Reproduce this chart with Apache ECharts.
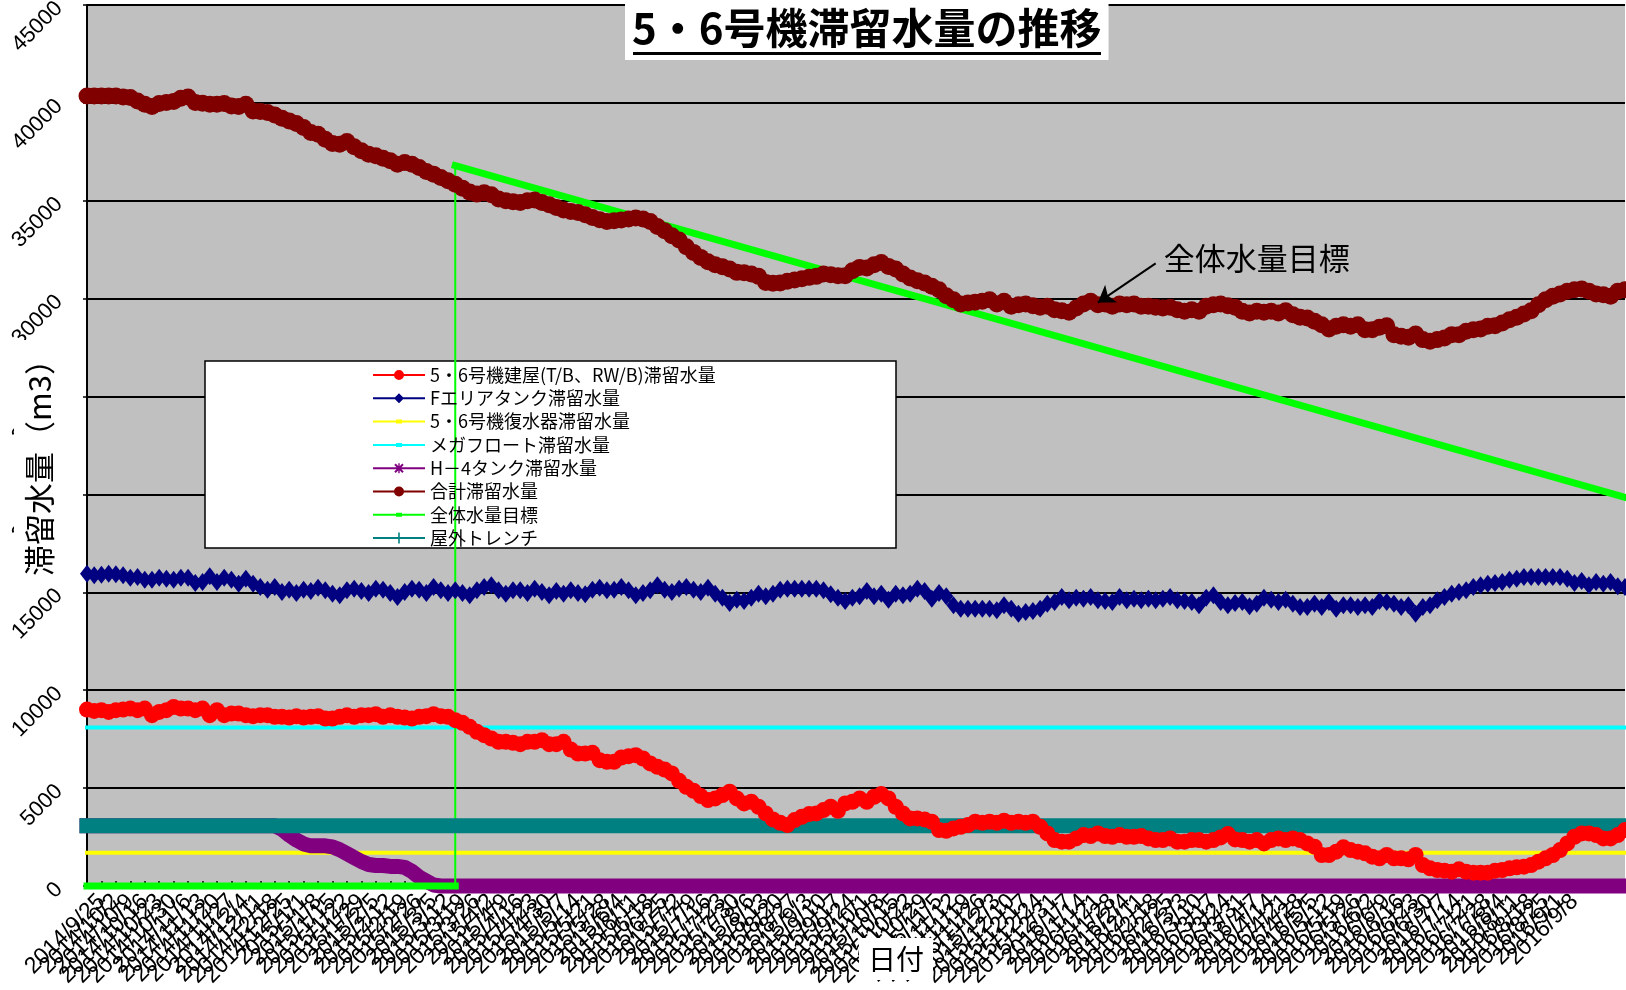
<!DOCTYPE html>
<html><head><meta charset="utf-8">
<script src="https://cdn.jsdelivr.net/npm/echarts@6/dist/echarts.min.js"></script>
<style>html,body{margin:0;padding:0;background:#fff}#c{width:1626px;height:990px}</style>
</head><body><div id="c"></div>
<script>
// ---------- data ----------
const N = 214;
// measurement dates (Thursday / Monday), 2014/9/18 ..
const dates = [];
(function () {
  let d = new Date(2014, 8, 18);
  for (let i = 0; i < N; i++) {
    dates.push(d.getFullYear() + '/' + (d.getMonth() + 1) + '/' + d.getDate());
    d = new Date(d.getFullYear(), d.getMonth(), d.getDate() + (i % 2 === 0 ? 4 : 3));
  }
})();

const yMin = 0, yMax = 45000, yStep = 5000;

const names = {
  bldg: '5・6号機建屋(T/B、RW/B)滞留水量',
  farea: 'Fエリアタンク滞留水量',
  cond: '5・6号機復水器滞留水量',
  mega: 'メガフロート滞留水量',
  h4: 'H－4タンク滞留水量',
  total: '合計滞留水量',
  target: '全体水量目標',
  trench: '屋外トレンチ'
};

const bldg = [
9013,8945,8980,8894,8980,9013,9064,8980,9064,8724,
8894,8980,9149,9064,9064,8980,9064,8724,8980,8724,
8809,8809,8724,8673,8724,8724,8639,8639,8605,8673,
8605,8639,8673,8554,8554,8639,8724,8639,8724,8724,
8775,8639,8724,8639,8605,8554,8639,8673,8775,8673,
8639,8469,8333,8129,7874,7704,7534,7364,7364,7313,
7245,7364,7364,7449,7245,7245,7364,6973,6769,6769,
6803,6429,6344,6344,6565,6633,6684,6514,6259,6089,
5952,5748,5374,5068,4864,4592,4388,4473,4643,4813,
4473,4218,4303,4048,3707,3402,3232,3112,3367,3537,
3673,3707,3878,4048,3844,4218,4303,4473,4303,4558,
4694,4473,4048,3707,3452,3452,3401,3282,2857,2823,
2942,3027,3112,3282,3231,3282,3231,3333,3231,3282,
3231,3282,3027,2687,2347,2262,2262,2432,2602,2551,
2687,2551,2517,2602,2517,2517,2551,2432,2347,2347,
2432,2262,2262,2347,2347,2262,2347,2483,2653,2381,
2347,2262,2347,2177,2347,2432,2347,2432,2347,2177,
2007,1582,1582,1752,1973,1837,1752,1667,1497,1412,
1582,1412,1412,1361,1582,1071,901,816,782,731,
850,731,680,680,680,782,816,901,952,986,
1071,1241,1412,1582,1837,2177,2517,2687,2687,2602,
2432,2432,2602,2857];

const farea = [
15953,15867,15902,15953,15918,15867,15749,15782,15647,15647,
15749,15698,15647,15749,15749,15476,15527,15816,15527,15749,
15647,15443,15698,15443,15272,15137,15272,15017,15137,14966,
15137,15068,15238,15102,14932,14847,15102,15187,15068,14966,
15187,15137,14966,14762,15017,15187,15137,14966,15272,15102,
14966,15102,14966,14847,15102,15272,15357,15102,14932,15102,
15102,14966,15187,15017,14847,15068,14932,15102,14966,14898,
15137,15238,15102,15137,15272,15102,14847,14966,15102,15357,
15137,15017,15187,15272,15137,15017,15238,14932,14728,14456,
14626,14558,14728,14932,14796,14932,15137,15187,15187,15187,
15187,15187,15102,14898,14728,14558,14728,14796,15068,14796,
14932,14626,14932,14847,14932,15187,15068,14677,14966,14796,
14337,14167,14167,14167,14167,14167,14082,14337,14167,13912,
13997,14048,14167,14422,14507,14762,14592,14728,14677,14762,
14592,14558,14507,14762,14592,14677,14592,14677,14592,14677,
14762,14592,14558,14507,14337,14728,14847,14507,14337,14456,
14507,14286,14422,14728,14626,14507,14626,14422,14252,14252,
14422,14252,14507,14167,14337,14337,14252,14337,14252,14558,
14507,14422,14252,14337,13912,14252,14337,14592,14762,14932,
15017,15102,15272,15357,15443,15476,15527,15647,15698,15782,
15782,15782,15782,15782,15782,15698,15476,15578,15357,15527,
15443,15527,15306,15272];

const total = [
40357,40357,40357,40357,40357,40306,40272,40102,39933,39813,
39966,40017,40068,40238,40306,40017,39983,39933,39933,39966,
39847,39813,39933,39591,39557,39506,39387,39217,39081,38945,
38741,38486,38401,38146,37925,37891,38027,37755,37551,37381,
37296,37177,37041,36871,36956,36871,36701,36497,36361,36191,
36020,35850,35646,35442,35340,35408,35306,35085,35000,34949,
34915,35000,35034,34915,34796,34660,34524,34456,34405,34285,
34149,34030,33945,33979,34013,34064,34115,34064,33945,33690,
33469,33214,32993,32653,32364,32109,31888,31734,31632,31513,
31343,31326,31258,31139,30832,30782,30799,30884,30952,31020,
31088,31139,31258,31224,31173,31173,31428,31598,31564,31734,
31853,31649,31513,31258,31054,30918,30799,30629,30459,30153,
29949,29728,29779,29813,29864,29949,29728,29864,29609,29694,
29728,29643,29558,29609,29438,29387,29302,29524,29728,29864,
29694,29728,29609,29728,29694,29728,29609,29609,29558,29524,
29558,29438,29353,29438,29353,29609,29694,29728,29643,29558,
29353,29268,29353,29302,29353,29268,29387,29183,29047,29013,
28843,28673,28452,28588,28673,28588,28673,28418,28418,28537,
28622,28163,28078,28027,28197,27908,27823,27908,27993,28163,
28163,28333,28418,28452,28588,28622,28758,28928,29047,29217,
29387,29694,29949,30119,30238,30374,30459,30493,30374,30238,
30204,30119,30374,30459];

// constant-level series: [date index, value]
const condIdx = [0, 213], condVal = [1700, 1700];
const megaIdx = [0, 213], megaVal = [8100, 8100];
const trenchIdx = [0, 213], trenchVal = [3080, 3080];
// H-4 tank: level changes only at these dates
const h4Idx = [0, 26, 27, 28, 29, 30, 31, 32, 33, 34, 35, 36, 37, 38, 39, 40, 41, 42, 43, 44, 45, 46, 47, 48, 49, 213];
const h4Val = [3080, 3080, 2900, 2600, 2350, 2150, 2050, 2050, 2050, 2000, 1850, 1650, 1450, 1250, 1100, 1050, 1050, 1000, 1000, 950, 750, 450, 250, 50, 0, 0];
// overall target line vertices
const targetIdx = [0, 51, 51, 213];
const targetVal = [0, 0, 36800, 19850];
// annotation arrow (date index, value): start -> tip
const noteArrowIdx = [148, 140], noteArrowVal = [31800, 29800];
const noteTextIdx = 162, noteTextVal = 32050;

const pairs = (ix, vs) => ix.map((x, k) => [x, vs[k]]);

// legend icons (line + marker)
const LINE = 'M0,6H52V8H0Z ';
const icons = {
  circle: 'path://' + LINE + 'M21,7A5,5 0 1 1 31,7A5,5 0 1 1 21,7Z',
  diamond: 'path://' + LINE + 'M26,2L31,7L26,12L21,7Z',
  dash: 'path://' + LINE + 'M23,5H29V9H23Z',
  star: 'path://' + LINE + 'M21.3,3.7L22.7,2.3L30.7,10.3L29.3,11.7Z M29.3,2.3L30.7,3.7L22.7,11.7L21.3,10.3Z M25.3,2H26.7V12H25.3Z',
  plus: 'path://' + LINE + 'M25.2,1.5H26.8V12.5H25.2Z'
};

const JP = '"Noto Sans CJK JP", "Noto Sans", sans-serif';
const NUM = '"Liberation Sans", Arial, sans-serif';

const chart = echarts.init(document.getElementById('c'), null, { renderer: 'canvas' });

const lineBase = { type: 'line', clip: false, showAllSymbol: true, animation: false, emphasis: { disabled: true } };

const option = {
  animation: false,
  backgroundColor: '#ffffff',
  textStyle: { fontFamily: JP },
  title: {
    text: '5・6号機滞留水量の推移',
    left: 625, top: 0,
    padding: [7, 7, 11, 7],
    backgroundColor: '#ffffff',
    textStyle: { fontSize: 42, fontWeight: 'bold', color: '#000', fontFamily: JP }
  },
  grid: {
    left: 87, top: 5, right: 1, bottom: 104,
    show: true, backgroundColor: '#c0c0c0', borderWidth: 0,
    containLabel: false, outerBoundsMode: 'none'
  },
  legend: {
    orient: 'vertical', left: 368, top: 360,
    itemWidth: 52, itemHeight: 14, itemGap: 3.3,
    symbolKeepAspect: true,
    itemStyle: { borderWidth: 0 },
    textStyle: { fontSize: 18, lineHeight: 20, color: '#000', fontFamily: JP },
    data: [
      { name: names.bldg, icon: icons.circle },
      { name: names.farea, icon: icons.diamond },
      { name: names.cond, icon: icons.dash },
      { name: names.mega, icon: icons.dash },
      { name: names.h4, icon: icons.star },
      { name: names.total, icon: icons.circle },
      { name: names.target, icon: icons.dash },
      { name: names.trench, icon: icons.plus }
    ]
  },
  xAxis: [{
    type: 'category', data: dates, boundaryGap: false, z: 0,
    axisLine: { show: true, lineStyle: { color: '#000', width: 2 } },
    axisTick: { show: true, inside: true, length: 5, interval: 1, lineStyle: { color: '#000', width: 1.5 } },
    axisLabel: {
      interval: (i) => i % 2 === 0 && i <= 208,
      rotate: 45, fontSize: 23, color: '#000', margin: 12, fontFamily: NUM
    },
    splitLine: { show: false }
  }, {
    // title-only axis so that its white box sits over the tick labels
    type: 'category', data: dates, boundaryGap: false, position: 'bottom', z: 6,
    axisLine: { show: false }, axisTick: { show: false }, axisLabel: { show: false }, splitLine: { show: false },
    name: '{s| }{t|日付}', nameLocation: 'middle', nameGap: 52, nameMoveOverlap: false,
    nameTextStyle: {
      rich: {
        s: { width: 80, fontSize: 28 },
        t: { fontSize: 28, color: '#000', backgroundColor: '#fff', padding: [7, 9], fontFamily: JP }
      }
    }
  }],
  yAxis: [{
    type: 'value', min: yMin, max: yMax, interval: yStep, z: 0,
    axisLine: { show: true, lineStyle: { color: '#000', width: 2 } },
    axisTick: { show: true, length: 4, lineStyle: { color: '#000', width: 1.5 } },
    axisLabel: { rotate: 45, fontSize: 22, color: '#000', margin: 28, fontFamily: NUM, formatter: (v) => String(v) },
    splitLine: { show: true, lineStyle: { color: '#000', width: 2 } }
  }, {
    type: 'value', min: yMin, max: yMax, interval: yStep, position: 'left', z: 6,
    axisLine: { show: false }, axisTick: { show: false }, axisLabel: { show: false }, splitLine: { show: false },
    name: '{t|滞留水量（m3）}{s| }', nameLocation: 'middle', nameRotate: 90, nameGap: 22, nameMoveOverlap: false,
    nameTextStyle: {
      rich: {
        t: { fontSize: 31, color: '#000', backgroundColor: '#fff', padding: [10, 4, 10, 4], fontFamily: JP },
        s: { width: 29, fontSize: 31 }
      }
    }
  }],
  graphic: [
    { type: 'rect', z: 3, shape: { x: 205, y: 361, width: 691, height: 187 },
      style: { fill: '#ffffff', stroke: '#000000', lineWidth: 1.5 } },
    { type: 'rect', z: 10, shape: { x: 633, y: 52, width: 468, height: 3 }, style: { fill: '#000' } }
  ],
  series: [
    Object.assign({}, lineBase, {
      name: names.bldg, data: bldg, symbol: 'circle', symbolSize: 16,
      lineStyle: { width: 2, color: '#ff0000' }, itemStyle: { color: '#ff0000' }
    }),
    Object.assign({}, lineBase, {
      name: names.farea, data: farea, symbol: 'diamond', symbolSize: [14, 18],
      lineStyle: { width: 2, color: '#000080' }, itemStyle: { color: '#000080' }
    }),
    Object.assign({}, lineBase, {
      name: names.cond, data: pairs(condIdx, condVal), symbol: 'none',
      lineStyle: { width: 4, color: '#ffff00', cap: 'square' }, itemStyle: { color: '#ffff00' }
    }),
    Object.assign({}, lineBase, {
      name: names.mega, data: pairs(megaIdx, megaVal), symbol: 'none',
      lineStyle: { width: 4, color: '#00ffff', cap: 'square' }, itemStyle: { color: '#00ffff' }
    }),
    Object.assign({}, lineBase, {
      name: names.h4, data: pairs(h4Idx, h4Val), symbol: 'none',
      lineStyle: { width: 15, color: '#800080', join: 'round', cap: 'square' }, itemStyle: { color: '#800080' }
    }),
    Object.assign({}, lineBase, {
      name: names.total, data: total, symbol: 'circle', symbolSize: 17,
      lineStyle: { width: 2, color: '#800000' }, itemStyle: { color: '#800000' }
    }),
    Object.assign({}, lineBase, {
      name: names.target, data: pairs(targetIdx.slice(0, 2), targetVal.slice(0, 2)), symbol: 'none',
      lineStyle: { width: 7, color: '#00ff00', cap: 'square' }, itemStyle: { color: '#00ff00' }
    }),
    Object.assign({}, lineBase, {
      name: names.target, data: pairs(targetIdx.slice(1, 3), targetVal.slice(1, 3)), symbol: 'none',
      lineStyle: { width: 2, color: '#00ff00' }, itemStyle: { color: '#00ff00' }
    }),
    Object.assign({}, lineBase, {
      name: names.target, data: pairs(targetIdx.slice(2, 4), targetVal.slice(2, 4)), symbol: 'none',
      lineStyle: { width: 7, color: '#00ff00', cap: 'square' }, itemStyle: { color: '#00ff00' },
      markLine: {
        silent: true, animation: false, symbol: ['none', 'arrow'], symbolSize: 16,
        lineStyle: { color: '#000', width: 2, type: 'solid' }, itemStyle: { color: '#000' }, label: { show: false },
        data: [[{ coord: [noteArrowIdx[0], noteArrowVal[0]] }, { coord: [noteArrowIdx[1], noteArrowVal[1]] }]]
      },
      markPoint: {
        silent: true, animation: false, symbol: 'rect', symbolSize: 1,
        itemStyle: { color: 'rgba(0,0,0,0)' },
        label: { show: true, position: 'inside', formatter: '全体水量目標', fontSize: 31, color: '#000', fontFamily: JP },
        data: [{ coord: [noteTextIdx, noteTextVal] }]
      }
    }),
    Object.assign({}, lineBase, {
      name: names.trench, data: pairs(trenchIdx, trenchVal), symbol: 'none',
      lineStyle: { width: 15, color: '#008080', cap: 'square' }, itemStyle: { color: '#008080' }
    })
  ]
};

chart.setOption(option);
</script>
</body></html>
